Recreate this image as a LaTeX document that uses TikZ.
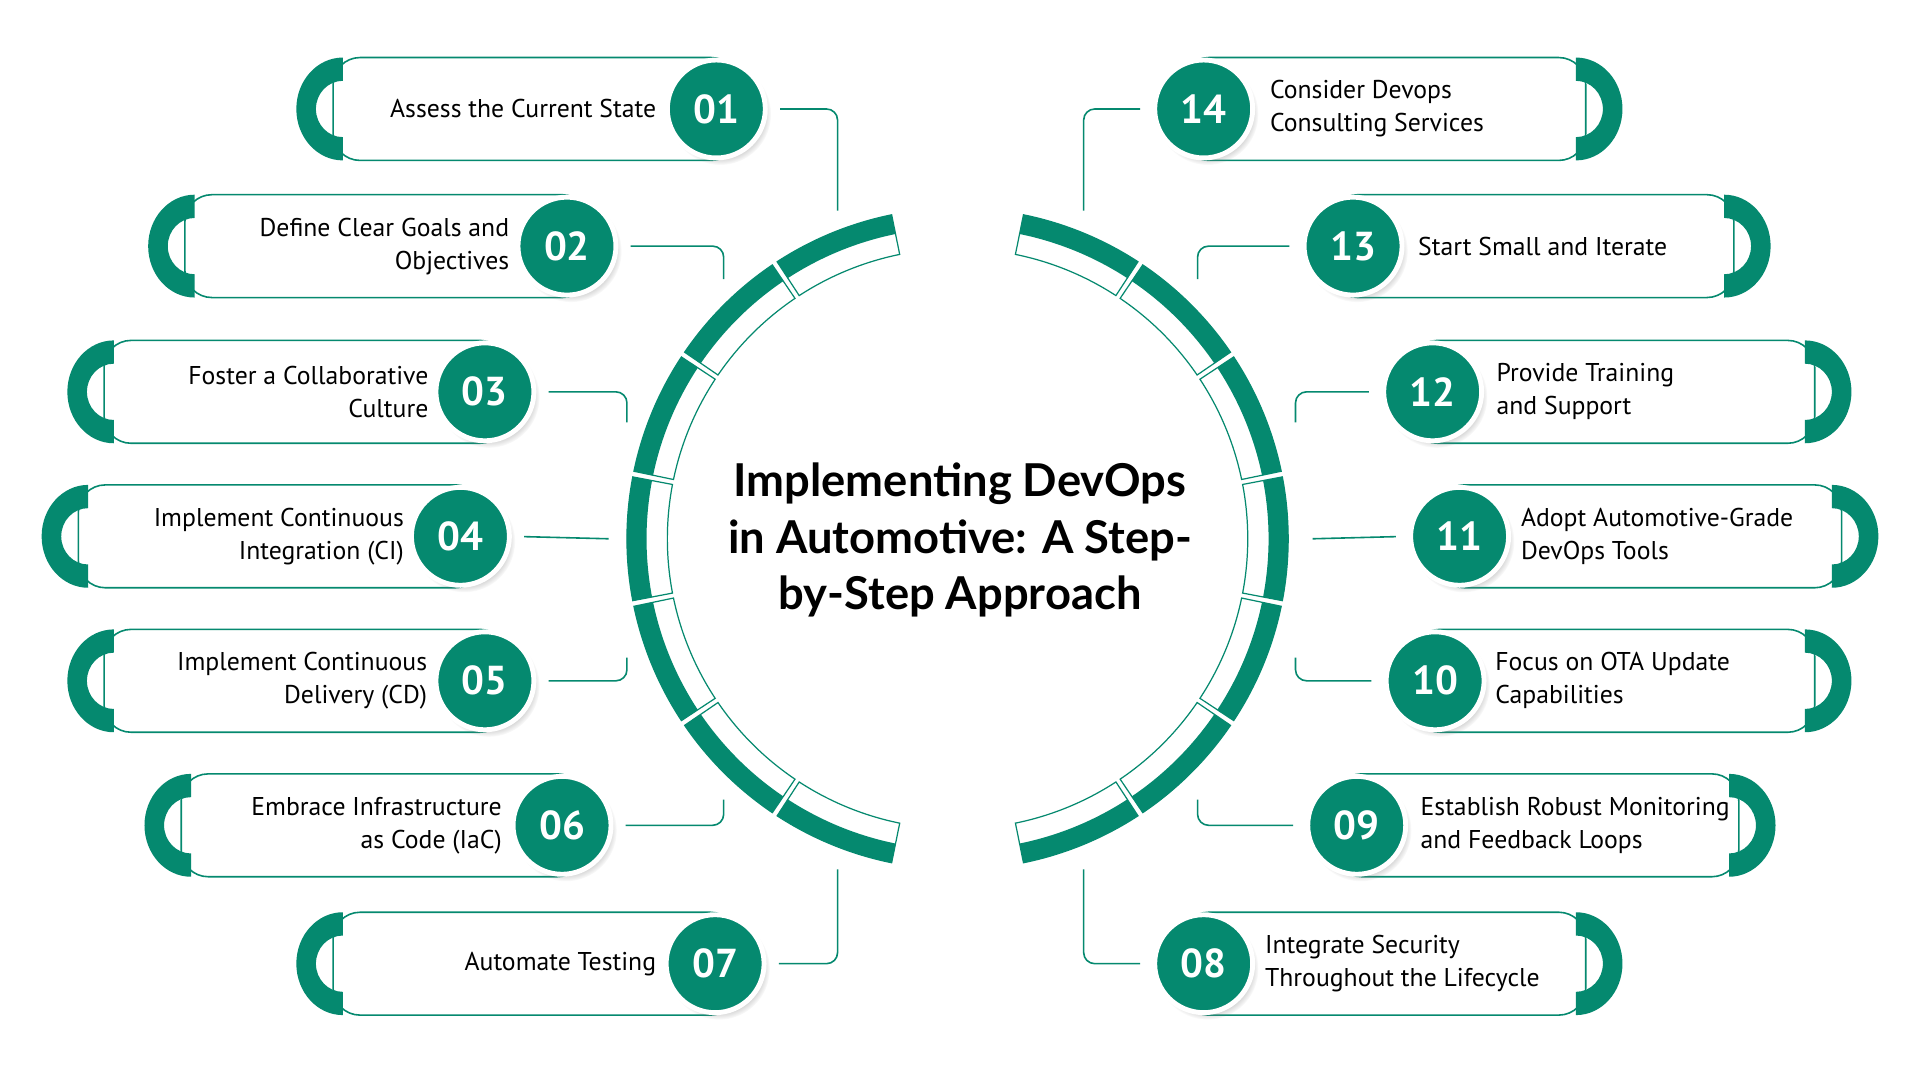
\documentclass[tikz,border=0pt]{standalone}
\usepackage{fontspec}
\setmainfont{PT Sans}
\newfontfamily\titlefont{Lato}
\usetikzlibrary{shadows}
\definecolor{dg}{HTML}{05896F}
\tikzset{
  numc/.style={circle,fill=dg,draw=white,line width=4pt,minimum size=80pt,inner sep=0pt,text=white,font=\fontsize{33}{33}\selectfont\bfseries,
     circular drop shadow={shadow xshift=3pt,shadow yshift=-4pt,opacity=0.35,shadow scale=1.04}},
  conn/.style={dg,line width=1.3pt,rounded corners=9pt},
  pill/.style={dg,line width=1.3pt,fill=white,rounded corners=22pt},
  lbl/.style={font=\fontsize{21}{27}\selectfont,inner sep=0pt},
}
\newcommand{\leftpill}[6]{% id capx y circx textx text
  \draw[pill] (#2+30,#3-42) rectangle (#4+18,#3+42);
  \fill[dg] (#2+38,#3-42) arc[start angle=270,end angle=90,x radius=38,y radius=42]
     -- (#2+38,#3+23) arc[start angle=90,end angle=270,x radius=22,y radius=23] -- cycle;
  \node[lbl,anchor=east,align=right] (t#1) at (#5,#3) {#6};
  \node[numc] (n#1) at (#4,#3) {#1};
}
\newcommand{\rightpill}[6]{% id capx(right) y circx textx text
  \draw[pill] (#4-18,#3-42) rectangle (#2-30,#3+42);
  \fill[dg] (#2-38,#3-42) arc[start angle=270,end angle=450,x radius=38,y radius=42]
     -- (#2-38,#3+23) arc[start angle=90,end angle=-90,x radius=22,y radius=23] -- cycle;
  \node[lbl,anchor=west,align=left] (t#1) at (#5,#3) {#6};
  \node[numc] (n#1) at (#4,#3) {#1};
}
\begin{document}
\begin{tikzpicture}[x=1pt,y=-1pt]
\useasboundingbox[fill=white] (0,0) rectangle (1568,882);
% ring segments
\begin{scope}[shift={(782,440)}]
\foreach \i in {0,...,6}{
  \pgfmathsetmacro\aa{101+\i*22.571+0.5}
  \pgfmathsetmacro\ab{101+(\i+1)*22.571-0.5}
  \draw[dg,line width=1pt,fill=white] (\aa:270) arc[start angle=\aa,end angle=\ab,radius=270] -- (\ab:237) arc[start angle=\ab,end angle=\aa,radius=237] -- cycle;
  \fill[dg] (\aa:270) arc[start angle=\aa,end angle=\ab,radius=270] -- (\ab:254) arc[start angle=\ab,end angle=\aa,radius=254] -- cycle;
  \pgfmathsetmacro\ba{-79+\i*22.571+0.5}
  \pgfmathsetmacro\bb{-79+(\i+1)*22.571-0.5}
  \draw[dg,line width=1pt,fill=white] (\ba:270) arc[start angle=\ba,end angle=\bb,radius=270] -- (\bb:237) arc[start angle=\bb,end angle=\ba,radius=237] -- cycle;
  \fill[dg] (\ba:270) arc[start angle=\ba,end angle=\bb,radius=270] -- (\bb:254) arc[start angle=\bb,end angle=\ba,radius=254] -- cycle;
}
\end{scope}
\node[font=\titlefont\fontsize{37}{46}\selectfont\bfseries,align=center] (title) at (784,441) {Implementing DevOps\\in Automotive: A Step-\\by-Step Approach};
% left pills
\leftpill{01}{242}{89}{585}{536}{Assess the Current State}
\leftpill{02}{121}{201}{463}{416}{Define Clear Goals and\\Objectives}
\leftpill{03}{55}{320}{396}{350}{Foster a Collaborative\\Culture}
\leftpill{04}{34}{438}{376}{330}{Implement Continuous\\Integration (CI)}
\leftpill{05}{55}{556}{396}{349}{Implement Continuous\\Delivery (CD)}
\leftpill{06}{118}{674}{459}{410}{Embrace Infrastructure\\as Code (IaC)}
\leftpill{07}{242}{787}{584}{536}{Automate Testing}
% right pills
\rightpill{14}{1325}{89}{983}{1037}{Consider Devops\\Consulting Services}
\rightpill{13}{1446}{201}{1105}{1158}{Start Small and Iterate}
\rightpill{12}{1512}{320}{1170}{1222}{Provide Training\\and Support}
\rightpill{11}{1534}{438}{1192}{1242}{Adopt Automotive-Grade\\DevOps Tools}
\rightpill{10}{1512}{556}{1172}{1221}{Focus on OTA Update\\Capabilities}
\rightpill{09}{1450}{674}{1108}{1160}{Establish Robust Monitoring\\and Feedback Loops}
\rightpill{08}{1325}{787}{983}{1033}{Integrate Security\\Throughout the Lifecycle}
% connector ends
\coordinate (c01) at (684,172); \coordinate (c02) at (591,228);
\coordinate (c03) at (512,345); \coordinate (c04) at (497,440);
\coordinate (c05) at (512,537); \coordinate (c06) at (591,653);
\coordinate (c07) at (684,710);
\coordinate (c14) at (885,172); \coordinate (c13) at (978,228);
\coordinate (c12) at (1058,345); \coordinate (c11) at (1072,440);
\coordinate (c10) at (1058,537); \coordinate (c09) at (978,653);
\coordinate (c08) at (885,710);
\foreach \k in {01,02,03,05,06,07}{\draw[conn,shorten <=10pt] (n\k.east) -| (c\k);}
\draw[conn,shorten <=10pt] (n04.east) -- (c04);
\foreach \k in {14,13,12,10,09,08}{\draw[conn,shorten <=10pt] (n\k.west) -| (c\k);}
\draw[conn,shorten <=10pt] (n11.west) -- (c11);
\end{tikzpicture}
\end{document}
